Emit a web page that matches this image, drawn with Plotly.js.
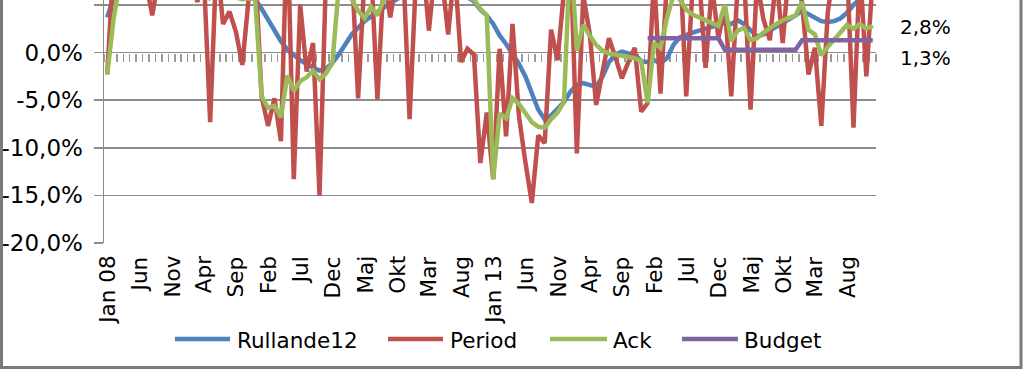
<!DOCTYPE html>
<html>
<head>
<meta charset="utf-8">
<script src="https://cdn.plot.ly/plotly-3.0.1.min.js"></script>
<style>
html,body{margin:0;padding:0;background:#fff;}
#chart{width:1023px;height:370px;}
</style>
</head>
<body>
<div id="chart"></div>
<script>
// ---- categories: months Jan 2008 .. Dec 2017 ----
const years = [2008, 2009, 2010, 2011, 2012, 2013, 2014, 2015, 2016, 2017];
const monthNums = ['01','02','03','04','05','06','07','08','09','10','11','12'];
const months = [];
years.forEach(y => monthNums.forEach(m => months.push(y + '-' + m)));

// tick labels shown every 5th month
const tickLabels = ['Jan 08','Jun','Nov','Apr','Sep','Feb','Jul','Dec','Maj','Okt','Mar','Aug',
                    'Jan 13','Jun','Nov','Apr','Sep','Feb','Jul','Dec','Maj','Okt','Mar','Aug'];
const yTickVals = [-20, -15, -10, -5, 0, 5];
const yTickLabels = ['-20,0%','-15,0%','-10,0%','-5,0%','0,0%','5,0%'];

const seriesNames = ['Rullande12', 'Period', 'Ack', 'Budget'];

// ---- series values (%) ----
const rullande12 = [
  3.7, 5.8, 6.3, 6.8, 7.2, 7.5, 7.7, 7.8, 8.0, 8.1, 8.2, 8.2,
  8.2, 8.3, 8.2, 8.0, 7.3, 7.6, 7.3, 7.0, 6.8, 6.5, 6.3, 5.6,
  4.6, 3.4, 2.2, 1.2, 0.3, -0.3, -0.8, -1.2, -1.6, -1.9, -1.7, -1.1,
  -0.2, 0.9, 1.9, 2.6, 3.3, 3.8, 4.3, 4.8, 5.2, 5.6, 6.0, 6.2,
  6.5, 6.6, 6.6, 6.7, 6.6, 6.4, 6.3, 6.1, 5.8, 5.4, 4.5, 3.9,
  3.0, 1.8, 0.9, -0.1, -1.2, -2.5, -4.4, -6.0, -7.0, -6.6, -5.9, -5.2,
  -4.1, -3.4, -3.2, -3.4, -3.6, -2.5, -1.0, -0.2, 0.1, -0.1, -0.2, -0.9,
  -1.0, -0.8, -1.1, -0.6, 0.8, 1.6, 1.9, 2.1, 2.3, 2.5, 2.7, 2.8,
  3.1, 3.0, 3.4, 3.0, 2.3, 1.7, 1.9, 2.3, 2.6, 3.0, 3.5, 3.9,
  4.4, 4.0, 3.6, 3.3, 3.2, 3.3, 3.6, 4.2, 5.0, 5.6, 6.0, 6.2
];
const period = [
  -2.3, 9.5, 9.0, 7.0, 10.0, 8.0, 7.5, 3.9, 8.0, 11.0, 7.0, 9.0,
  8.0, 10.0, 5.3, 8.5, -7.3, 10.0, 3.0, 4.3, 2.2, -1.3, 5.8, 9.0,
  -4.6, -7.7, -4.8, -9.3, 14.0, -13.3, 5.0, -2.0, 1.0, -15.0, 8.0, 9.0,
  7.0, 8.0, 9.0, -4.8, 8.0, 9.0, -4.9, 8.0, 3.7, 8.0, 9.0, -7.0,
  8.0, 10.0, 2.3, 9.0, 8.0, 1.9, 9.0, -1.0, 0.4, -0.2, -11.6, -6.3,
  -13.3, 0.4, -8.8, 3.0, -6.7, -11.5, -15.8, -8.7, -9.5, 2.4, -0.8, 6.5,
  11.0, -10.6, 6.0, 2.0, -5.5, -2.0, 1.5, -0.5, -2.7, -1.0, 0.5, -6.2,
  -5.3, 8.0, -4.3, 7.5, 12.0, 10.0, -4.6, 7.0, 8.0, -1.6, 7.0, 1.5,
  5.0, -4.6, 7.0, 8.0, -6.0, 7.5, 3.5, 1.3, 8.0, 1.0, 9.0, 8.0,
  5.3, -2.3, 0.5, -7.7, 4.2, 9.0, 10.0, 9.0, -7.9, 9.0, -2.5, 8.0
];
const ack = [
  -2.3, 3.6, 7.5, 8.0, 8.5, 8.5, 8.3, 8.0, 8.0, 8.3, 8.1, 8.2,
  8.0, 9.0, 7.8, 8.0, 5.8, 6.5, 6.2, 6.0, 5.8, 5.6, 5.7, 5.6,
  -4.6, -5.8, -5.6, -6.8, -2.4, -4.0, -3.0, -2.6, -1.9, -2.8, -2.2, -1.1,
  7.0, 7.0, 5.6, 4.4, 3.6, 4.8, 3.9, 5.6, 5.8, 6.0, 6.3, 6.2,
  8.0, 7.0, 6.8, 7.0, 6.5, 6.3, 6.5, 6.0, 5.8, 5.6, 4.6, 3.9,
  -13.3, -6.4, -6.9, -4.8, -5.4, -6.3, -7.3, -7.8, -7.9, -7.0, -6.3, -5.2,
  11.0, 0.2, 2.9, 1.8, 0.8, 0.2, -0.1, -0.2, -0.3, -0.5, -0.6, -0.9,
  -5.3, 1.0, 0.5, 3.6, 6.0, 5.6, 4.5, 4.0, 3.7, 3.3, 3.1, 2.8,
  5.0, 1.2, 2.3, 2.6, 1.3, 1.5, 2.1, 2.6, 3.0, 3.4, 3.6, 3.9,
  5.3, 2.4, 1.9, -0.3, 0.6, 1.4, 2.2, 2.9, 2.5, 3.0, 2.5, 2.8
];
const budget = [
  null,null,null,null,null,null,null,null,null,null,null,null,
  null,null,null,null,null,null,null,null,null,null,null,null,
  null,null,null,null,null,null,null,null,null,null,null,null,
  null,null,null,null,null,null,null,null,null,null,null,null,
  null,null,null,null,null,null,null,null,null,null,null,null,
  null,null,null,null,null,null,null,null,null,null,null,null,
  null,null,null,null,null,null,null,null,null,null,null,null,
  1.5, 1.5, 1.5, 1.5, 1.5, 1.5, 1.5, 1.5, 1.5, 1.5, 1.5, 1.5,
  0.3, 0.3, 0.3, 0.3, 0.3, 0.3, 0.3, 0.3, 0.3, 0.3, 0.3, 0.3,
  1.3, 1.3, 1.3, 1.3, 1.3, 1.3, 1.3, 1.3, 1.3, 1.3, 1.3, 1.3
];

// ---- styling ----
const colors = ['#4F81BD', '#C0504D', '#9BBB59', '#8064A2'];
const FONT = 'DejaVu Sans, sans-serif';
const TXT = '#000000';
const GRID = '#8c8c8c';
const W = 1023, H = 370;
const ML = 104, MR = 147, MT = 0, MB = 127;
const PW = W - ML - MR, PH = H - MT - MB;
const px2x = X => (X - ML) / PW;
const px2y = Y => (PH + MT - Y) / PH;
const Y_MIN = -20, Y_MAX = 5.52;
const zeroPaper = (0 - Y_MIN) / (Y_MAX - Y_MIN);

const allSeries = [rullande12, period, ack, budget];
const traces = allSeries.map((s, k) => ({
  type: 'scatter', mode: 'lines', x: months, y: s, name: seriesNames[k],
  line: {color: colors[k], width: 4.5}, showlegend: false, hoverinfo: 'x+y'
}));

const fmt = v => v.toFixed(1).replace('.', ',') + '%';
const last = months.length - 1;

// custom legend
const legendItems = [
  {x0: 175, x1: 230, tx: 235},
  {x0: 388, x1: 443, tx: 448},
  {x0: 550, x1: 607, tx: 611},
  {x0: 682, x1: 738, tx: 742}
];
const legendY = 339;
const shapes = legendItems.map((it, k) => ({
  type: 'line', xref: 'paper', yref: 'paper',
  x0: px2x(it.x0), x1: px2x(it.x1), y0: px2y(legendY), y1: px2y(legendY),
  line: {color: colors[k], width: 4.5}
}));
// outer chart frame
shapes.push({type: 'rect', xref: 'paper', yref: 'paper',
  x0: px2x(1.5), x1: px2x(1021), y0: px2y(367.5), y1: px2y(-20),
  line: {color: '#7a7a7a', width: 3}, fillcolor: 'rgba(0,0,0,0)'});

const annotations = legendItems.map((it, k) => ({
  xref: 'paper', yref: 'paper', x: px2x(it.tx), y: px2y(legendY + 1),
  xanchor: 'left', yanchor: 'middle', showarrow: false, text: seriesNames[k],
  font: {family: FONT, size: 21.5, color: TXT}
}));
// category labels along the bottom (rotated), every 5th month
tickLabels.forEach((lab, k) => {
  annotations.push({xref: 'x', yref: 'paper', x: months[k * 5], y: px2y(255),
    xanchor: 'center', yanchor: 'top', textangle: -90, showarrow: false, text: lab,
    borderpad: 0, font: {family: FONT, size: 21.5, color: TXT}});
});
annotations.push({xref: 'x', yref: 'y', x: months[last], y: ack[last], text: fmt(ack[last]),
  xanchor: 'left', yanchor: 'middle', xshift: 25, yshift: -1, showarrow: false,
  font: {family: FONT, size: 20, color: TXT}});
annotations.push({xref: 'x', yref: 'y', x: months[last], y: budget[last], text: fmt(budget[last]),
  xanchor: 'left', yanchor: 'middle', xshift: 25, yshift: -18, showarrow: false,
  font: {family: FONT, size: 20, color: TXT}});

const layout = {
  width: W, height: H,
  margin: {l: ML, r: MR, t: MT, b: MB, pad: 0},
  paper_bgcolor: '#ffffff', plot_bgcolor: '#ffffff',
  font: {family: FONT, size: 21, color: TXT},
  showlegend: false,
  xaxis: {
    type: 'category', range: [-0.5, months.length - 0.5],
    anchor: 'free', position: zeroPaper, layer: 'below traces',
    tickmode: 'linear', dtick: 1, tickson: 'boundaries',
    ticks: 'outside', ticklen: 8, tickwidth: 1.5, tickcolor: '#9a9a9a',
    showticklabels: false, showgrid: false, zeroline: false, showline: false,
    fixedrange: true
  },
  yaxis: {
    range: [Y_MIN, Y_MAX], tickmode: 'array', tickvals: yTickVals, ticktext: yTickLabels,
    showgrid: true, gridcolor: GRID, gridwidth: 1.5,
    zeroline: true, zerolinecolor: GRID, zerolinewidth: 1.5,
    showline: true, linecolor: GRID, linewidth: 1.5,
    ticks: 'outside', ticklen: 9, tickwidth: 1.5, tickcolor: GRID,
    tickfont: {family: FONT, size: 23, color: TXT}, ticklabelstandoff: 6,
    fixedrange: true
  },
  shapes: shapes,
  annotations: annotations
};

Plotly.newPlot('chart', traces, layout, {displayModeBar: false, staticPlot: true});
</script>
</body>
</html>
